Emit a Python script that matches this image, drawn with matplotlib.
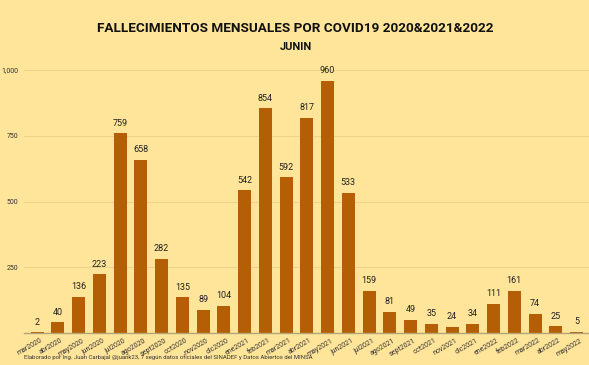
import matplotlib.pyplot as plt
from matplotlib.ticker import FuncFormatter
from matplotlib.transforms import ScaledTranslation

meses = ["mar2020", "abr2020", "may2020", "jun2020", "jul2020", "ago2020", "sept2020",
         "oct2020", "nov2020", "dic2020", "ene2021", "feb2021", "mar2021", "abr2021",
         "may2021", "jun2021", "jul2021", "ago2021", "sept2021", "oct2021", "nov2021",
         "dic2021", "ene2022", "feb2022", "mar2022", "abr2022", "may2022"]
fallecidos = [2, 40, 136, 223, 759, 658, 282, 135, 89, 104, 542, 854, 592, 817,
              960, 533, 159, 81, 49, 35, 24, 34, 111, 161, 74, 25, 5]

fondo = "#FFE599"
barra = "#B45F06"

plt.rcParams['font.family'] = ['Roboto', 'DejaVu Sans']

fig = plt.figure(figsize=(5.89, 3.65), dpi=100, facecolor=fondo)
ax = fig.add_axes([24 / 589, 32 / 365, 565 / 589, 263 / 365])
ax.set_facecolor(fondo)

x = list(range(len(meses)))
ax.bar(x, fallecidos, width=0.63, color=barra, zorder=3)
for xi, v in zip(x, fallecidos):
    ax.text(xi, v + 22, str(v), ha="center", va="bottom", fontsize=6.5, color="#222222")

ax.set_xlim(-0.63, 26.6)
ax.set_ylim(0, 1000)
ax.set_yticks([0, 250, 500, 750, 1000])
ax.yaxis.set_major_formatter(FuncFormatter(lambda v, p: "" if v == 0 else f"{int(v):,}"))
ax.grid(axis="y", color="#EBD58C", linewidth=0.8, zorder=0)
ax.tick_params(axis="y", length=0, labelsize=5, labelcolor="#333333", pad=4)
ax.set_xticks(x)
ax.set_xticklabels(meses, rotation=30, ha="right", rotation_mode="anchor", fontsize=5, color="#333333")
ax.tick_params(axis="x", length=0, pad=3)
# las etiquetas del eje x quedan un poco a la derecha de cada barra
desplaza = ScaledTranslation(3 / 100, 0, fig.dpi_scale_trans)
for lbl in ax.get_xticklabels():
    lbl.set_transform(lbl.get_transform() + desplaza)
for s in ["top", "right", "left"]:
    ax.spines[s].set_visible(False)
ax.spines["bottom"].set_color("#B3A57A")
ax.spines["bottom"].set_linewidth(1)
ax.spines["bottom"].set_zorder(4)

fig.text(295 / 589, 1 - 28 / 365, "FALLECIMIENTOS MENSUALES POR COVID19 2020&2021&2022",
         ha="center", va="center", fontsize=9.7, fontweight="bold", color="#111111")
fig.text(296 / 589, 1 - 47 / 365, "JUNIN", ha="center", va="center", fontsize=8,
         fontweight="bold", color="#111111")
fig.text(24 / 589, 1 - 357 / 365,
         "Elaborado por Ing. Juan Carbajal @juank23, 7 según datos oficiales del SINADEF y Datos Abiertos del MINSA",
         ha="left", va="center", fontsize=4.3, color="#333333")

fig.savefig("out.png", dpi=100, facecolor=fondo)
